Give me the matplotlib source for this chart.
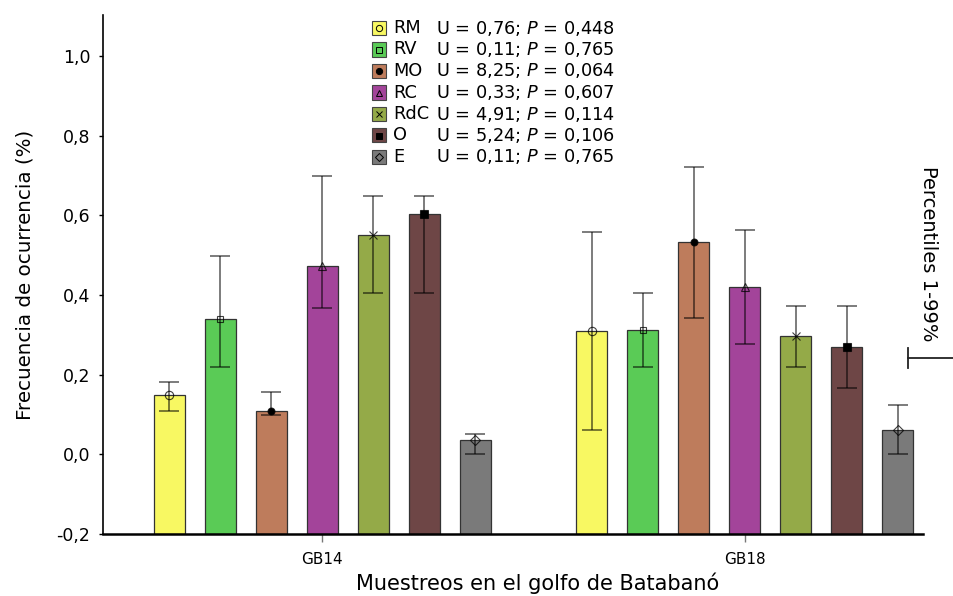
import numpy as np
import matplotlib
matplotlib.use("Agg")
import matplotlib.pyplot as plt
from matplotlib.patches import Rectangle
from matplotlib.lines import Line2D

# datos
grupos = ["GB14", "GB18"]
categorias = ["RM", "RV", "MO", "RC", "RdC", "O", "E"]
u_valores = ["0,76", "0,11", "8,25", "0,33", "4,91", "5,24", "0,11"]
p_valores = ["0,448", "0,765", "0,064", "0,607", "0,114", "0,106", "0,765"]

media_gb14 = [0.149, 0.340, 0.109, 0.473, 0.551, 0.604, 0.036]
media_gb18 = [0.310, 0.312, 0.532, 0.420, 0.297, 0.270, 0.061]
p1_gb14 = [0.109, 0.220, 0.099, 0.368, 0.405, 0.405, 0.000]
p1_gb18 = [0.061, 0.220, 0.342, 0.277, 0.220, 0.166, 0.000]
p99_gb14 = [0.182, 0.498, 0.157, 0.699, 0.649, 0.649, 0.051]
p99_gb18 = [0.559, 0.404, 0.721, 0.562, 0.373, 0.373, 0.123]

colores = ["#F8F862", "#5ACB56", "#BE7C5C", "#A3449A", "#94AA48", "#6E4646", "#7A7A7A"]
marcadores = ["o", "s", "o", "^", "x", "s", "D"]
marc_relleno = ["none", "none", "k", "none", "none", "k", "none"]
marc_tam = [6, 5, 5, 6, 6, 6, 5]

plt.rcParams['font.family'] = ['DejaVu Sans']

fig = plt.figure(figsize=(9.54, 5.96), dpi=100)
ax = fig.add_axes([103 / 954, 1 - 534 / 596, 820 / 954, 519 / 596])

medias = [media_gb14, media_gb18]
p1s = [p1_gb14, p1_gb18]
p99s = [p99_gb14, p99_gb18]
paso = 0.1206
ancho = 0.0733
base = -0.2

for g in range(len(grupos)):
    for i in range(len(categorias)):
        x = g + (i - 3) * paso
        m = medias[g][i]
        ax.bar(x, m - base, bottom=base, width=ancho, color=colores[i],
               edgecolor="#333333", linewidth=0.9, zorder=2)
        ax.errorbar(x, m, yerr=[[m - p1s[g][i]], [p99s[g][i] - m]], fmt="none",
                    ecolor=(0, 0, 0, 0.65), elinewidth=1.1, capsize=7.5,
                    capthick=1.1, zorder=3)
        ax.plot(x, m, marker=marcadores[i], markersize=marc_tam[i],
                markerfacecolor=marc_relleno[i], markeredgecolor=(0, 0, 0, 0.75),
                markeredgewidth=0.8, linestyle="none", zorder=4)

ax.set_xlim(-0.518, 1.421)
ax.set_ylim(-0.2, 1.103)
ax.set_yticks(np.arange(-0.2, 1.01, 0.2))
ax.set_yticklabels([f"{v:.1f}".replace(".", ",") for v in np.arange(-0.2, 1.01, 0.2)],
                   fontsize=12.5)
ax.set_xticks(range(len(grupos)))
ax.set_xticklabels(grupos, fontsize=11)
ax.tick_params(axis="y", length=3, width=1, pad=6)
ax.tick_params(axis="x", length=6, width=1, color="#777777", pad=7)
for lado in ["top", "right"]:
    ax.spines[lado].set_visible(False)
ax.spines["left"].set_linewidth(1.2)
ax.spines["bottom"].set_linewidth(1.8)

ax.set_ylabel("Frecuencia de ocurrencia (%)", fontsize=14.3, labelpad=16)
ax.set_xlabel("Muestreos en el golfo de Batabanó", fontsize=15, labelpad=3)
ax.xaxis.set_label_coords(538 / 954 / (820 / 954) - 103 / 820, -0.074)

# leyenda dibujada a mano
for i, cat in enumerate(categorias):
    yc = 1 - (28 + i * 21.5) / 596
    fig.patches.append(Rectangle((372 / 954, yc - 7 / 596), 14 / 954, 14 / 596,
                                 transform=fig.transFigure, facecolor=colores[i],
                                 edgecolor="#444444", linewidth=0.8))
    fig.add_artist(Line2D([379 / 954], [yc], marker=marcadores[i], markersize=4.5,
                          markerfacecolor=marc_relleno[i], markeredgecolor="k",
                          markeredgewidth=0.7, transform=fig.transFigure))
    fig.text(393 / 954, yc, cat, fontsize=12.8, va="center")
    fig.text(436 / 954, yc, f"U = {u_valores[i]}; $\\it{{P}}$ = {p_valores[i]}",
             fontsize=12.8, va="center")

# simbolo de percentiles
fig.add_artist(Line2D([908 / 954, 908 / 954], [1 - 348 / 596, 1 - 368 / 596],
                      color="#222222", linewidth=1.3, transform=fig.transFigure))
fig.add_artist(Line2D([908 / 954, 954 / 954], [1 - 358 / 596, 1 - 358 / 596],
                      color="#222222", linewidth=1.3, transform=fig.transFigure))
fig.text(929 / 954, 1 - 254 / 596, "Percentiles 1-99%", fontsize=14,
         rotation=270, ha="center", va="center")

fig.savefig("out.png", dpi=100)
